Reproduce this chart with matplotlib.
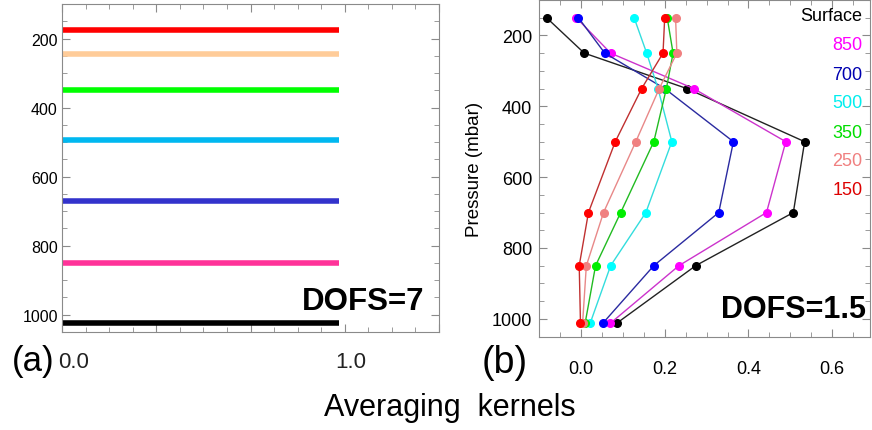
import matplotlib

matplotlib.use("Agg")
import matplotlib.pyplot as plt
from matplotlib.ticker import MultipleLocator

plt.rcParams["font.family"] = ["Liberation Sans", "DejaVu Sans"]

# panel (a): idealised kernels, one flat line per level
a_levels = [175, 245, 350, 495, 670, 850, 1025]
a_colors = ["#ff0000", "#ffcc99", "#00ff00", "#00b8f0", "#3333cc", "#ff3399", "#000000"]
a_xstart = -0.015
a_xend = 0.98

# panel (b): retrieved averaging kernels
b_levels = [150, 250, 350, 500, 700, 850, 1013]
b_names = ["Surface", "850", "700", "500", "350", "250", "150"]
b_values = {
    "Surface": [-0.082, 0.008, 0.253, 0.534, 0.507, 0.274, 0.085],
    "850": [-0.011, 0.071, 0.269, 0.489, 0.443, 0.234, 0.070],
    "700": [-0.006, 0.057, 0.200, 0.364, 0.329, 0.174, 0.052],
    "500": [0.127, 0.157, 0.184, 0.217, 0.155, 0.071, 0.022],
    "350": [0.206, 0.220, 0.204, 0.174, 0.095, 0.035, 0.010],
    "250": [0.226, 0.229, 0.187, 0.131, 0.054, 0.013, 0.004],
    "150": [0.200, 0.196, 0.145, 0.082, 0.018, -0.004, -0.001],
}
b_line_colors = ["#222222", "#cc33cc", "#2a2aa0", "#33dddd", "#22bb22", "#e88888", "#c03030"]
b_marker_colors = ["#000000", "#ff00ff", "#0000ff", "#00ffff", "#00ee00", "#f08080", "#ff0000"]
b_text_colors = ["#000000", "#ff00ff", "#0000b0", "#00eeee", "#00dd00", "#f08080", "#dd0000"]

W, H = 872, 431
fig = plt.figure(figsize=(W / 100, H / 100), dpi=100)


def px_axes(left, top, right, bottom):
    return fig.add_axes((left / W, 1 - bottom / H, (right - left) / W, (bottom - top) / H))


spine_gray = "#8a8a8a"

# ---- panel (a)
ax1 = px_axes(62, 5, 439, 333)
ax1.hlines(a_levels, a_xstart, a_xend, colors=a_colors, linewidth=4.0)
ax1.set_xlim(0, 4 / 3)
ax1.set_ylim(1050, 100)
ax1.xaxis.set_major_locator(MultipleLocator(1 / 3))
ax1.xaxis.set_minor_locator(MultipleLocator(1 / 12))
ax1.yaxis.set_major_locator(MultipleLocator(200))
ax1.yaxis.set_minor_locator(MultipleLocator(50))
ax1.set_xticklabels([])
ax1.tick_params(which="both", direction="in", top=True, right=True, color=spine_gray)
ax1.tick_params(which="major", length=6)
ax1.tick_params(which="minor", length=3.5)
ax1.tick_params(axis="y", labelsize=11.5, pad=3)
for s in ax1.spines.values():
    s.set_color(spine_gray)
for xv, dx, lab in [(0.0, 0.04, "0.0"), (1.0, 0.02, "1.0")]:
    ax1.text(xv + dx, -0.09, lab, transform=ax1.get_xaxis_transform(),
             ha="center", va="center", fontsize=16, color="#222222")
ax1.text(0.96, 0.07, "DOFS=7", transform=ax1.transAxes, ha="right", va="baseline",
         fontsize=22.5, fontweight="bold")

# ---- panel (b)
ax2 = px_axes(539, 1, 870, 337.5)
for name, lc, mc in zip(b_names, b_line_colors, b_marker_colors):
    ax2.plot(b_values[name], b_levels, color=lc, linewidth=1.0, marker="o",
             markersize=5.5, markerfacecolor=mc, markeredgecolor=mc, zorder=3)
ax2.set_xlim(-0.1, 0.69)
ax2.set_ylim(1050, 100)
ax2.xaxis.set_major_locator(MultipleLocator(0.2))
ax2.xaxis.set_minor_locator(MultipleLocator(0.05))
ax2.yaxis.set_major_locator(MultipleLocator(200))
ax2.yaxis.set_minor_locator(MultipleLocator(50))
ax2.tick_params(which="both", direction="in", top=True, right=True, color=spine_gray)
ax2.tick_params(which="major", length=6)
ax2.tick_params(which="minor", length=3.5)
ax2.tick_params(axis="x", labelsize=13, pad=17)
ax2.tick_params(axis="y", labelsize=13, pad=5)
for s in ax2.spines.values():
    s.set_color(spine_gray)
ax2.set_ylabel("Pressure (mbar)", fontsize=13.5, labelpad=6)
ax2.text(0.988, 0.058, "DOFS=1.5", transform=ax2.transAxes, ha="right", va="baseline",
         fontsize=22, fontweight="bold")

legend_y = [16.7, 45.7, 75, 104, 133, 162, 191]
for name, col, yp in zip(b_names, b_text_colors, legend_y):
    fig.text(862.7 / W, 1 - yp / H, name, ha="right", va="center", fontsize=13, color=col)

# ---- panel letters and shared label
fig.text(33 / W, 1 - 362 / H, "(a)", ha="center", va="center", fontsize=25)
fig.text(505 / W, 1 - 363 / H, "(b)", ha="center", va="center", fontsize=27)
fig.text(449.5 / W, 1 - 408 / H, "Averaging  kernels", ha="center", va="center", fontsize=22)

fig.savefig("out.png", dpi=100)
